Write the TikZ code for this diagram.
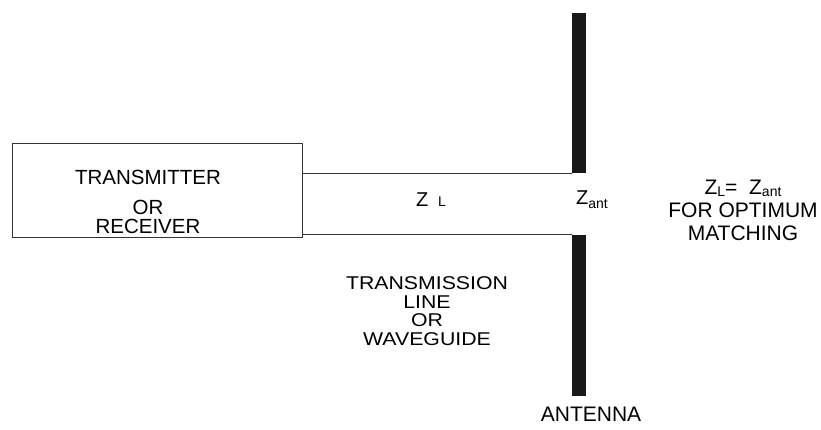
\documentclass[tikz,border=0pt]{standalone}
\usepackage{fontspec}
\setmainfont{Liberation Sans}
\newfontfamily\widefont[FakeStretch=1.15]{Liberation Sans}
\newcommand{\lowtxt}[2][-2pt]{\raisebox{#1}{\fontsize{14}{14}\selectfont #2}}
\begin{document}
\begin{tikzpicture}[x=1pt, y=-1pt, line cap=round, line join=round,
    lbl/.style={inner sep=0pt, align=center, font=\fontsize{21}{18.7}\selectfont},
    wire/.style={line width=0.9pt, draw=black!80},
    bar/.style={fill=black!90, draw=none, inner sep=0pt, minimum width=14pt}]
  \useasboundingbox (0,0) rectangle (821,430);
  % sender / receiver block
  \node[draw=black!80, line width=0.9pt, minimum width=290pt, minimum height=94pt,
        inner sep=0pt] (trx) at (157,190) {};
  \node[lbl, font=\fontsize{20.5}{18.7}\selectfont] (trxt) at (148,202) {TRANSMITTER\\[11pt]OR\\RECEIVER};
  % antenna halves
  \node[bar, minimum height=160pt] (antU) at (579,93) {};
  \node[bar, minimum height=161pt] (antD) at (579,315.5) {};
  \node[lbl] (antt) at (591,414) {ANTENNA};
  % the line between them
  \draw[wire] (trx.east |- antU.south) -- (antU.south west);
  \draw[wire] (trx.east |- antD.north) -- (antD.north west);
  \node[lbl, font=\fontsize{20}{20}\selectfont] (zl) at (431,200) {Z\,\,\,\lowtxt[0pt]{L}};
  \node[lbl, font=\fontsize{20}{20}\selectfont] (zant) at (592,200) {Z\lowtxt[-4pt]{ant}};
  \node[lbl, font=\widefont\fontsize{18.5}{18.7}\selectfont] (linet) at (427,311)
    {TRANSMISSION\\LINE\\OR\\WAVEGUIDE};
  % matching condition
  \node[lbl, font=\fontsize{21}{23}\selectfont] (cond) at (743,210)
    {Z\lowtxt{L}=\ \ Z\lowtxt{ant}\\FOR OPTIMUM\\MATCHING};
\end{tikzpicture}
\end{document}
